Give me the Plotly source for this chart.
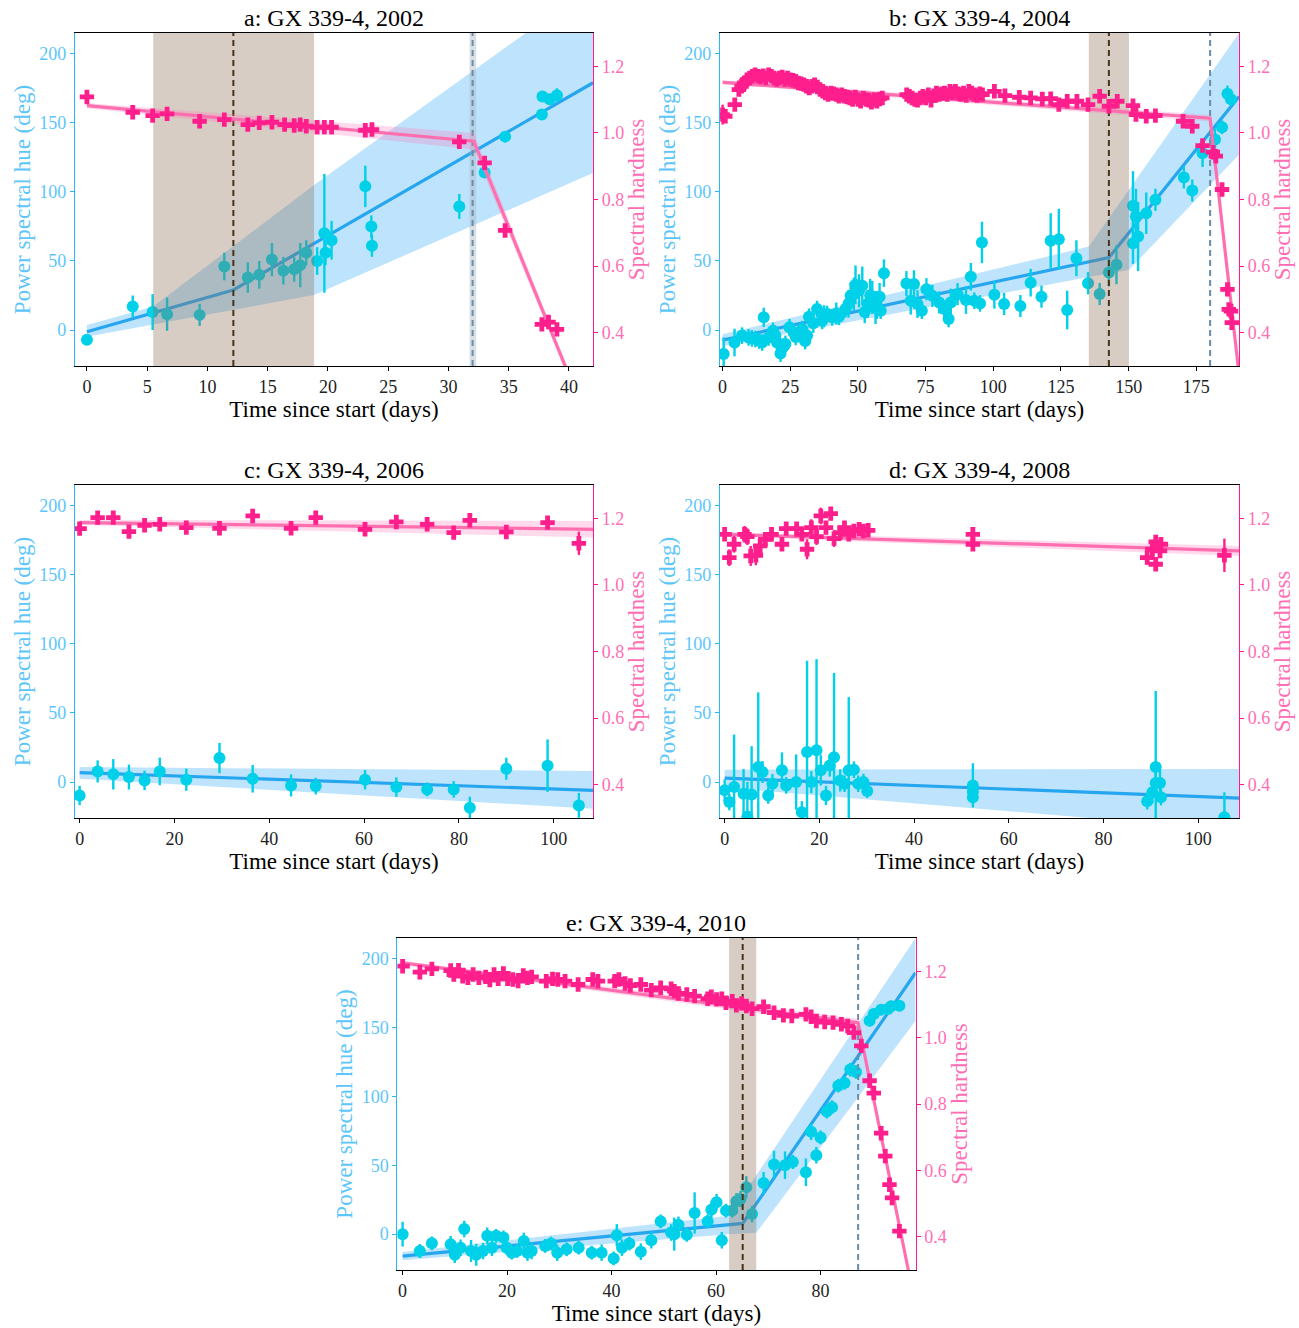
import plotly.graph_objects as go

# ---------------- Panel a: GX 339-4, 2002 ----------------
a_t_hue = [0, 3.8, 5.45, 6.65, 9.35, 11.4, 13.35, 14.3, 15.35, 16.3, 17.2, 17.7, 18.2, 19.1, 19.7, 19.8, 20.3,
           23.1, 23.6, 23.65, 30.9, 33.0, 34.7, 37.75, 37.8, 38.4, 39.0]
a_hue = [-7, 17, 13, 11.5, 11, 46, 38, 40, 51, 43, 44, 47, 56, 50, 70, 56, 65, 104, 75, 61, 89.5, 114, 140,
         156, 169, 167, 170]
a_hue_err = [3, 8, 13, 12, 8, 10, 11, 10, 12, 10, 9, 16, 9, 10, 43, 9, 14, 15, 8, 8, 9, 4, 4, 4, 4, 4, 5]
a_t_hard = [0, 3.8, 5.45, 6.65, 9.35, 11.4, 13.35, 14.3, 15.35, 16.4, 17.2, 17.7, 18.2, 19.1, 19.7, 20.3, 23.1,
            23.65, 30.9, 33.0, 34.7, 37.75, 38.3, 39.0]
a_hard = [1.108, 1.062, 1.052, 1.057, 1.035, 1.04, 1.025, 1.03, 1.032, 1.025, 1.022, 1.025, 1.02, 1.017, 1.017,
          1.017, 1.008, 1.01, 0.973, 0.91, 0.707, 0.425, 0.432, 0.41]
a_hard_err = [0.01] * len(a_hard)
a_fit_hue_t = [0, 12.15, 42]
a_fit_hue = [-1.2, 29, 179]
a_band_hue_t = [0, 5.5, 18.85, 42]
a_band_hue_hi = [3.6, 17, 105, 250]
a_band_hue_lo = [-4.8, 4, 25.4, 113.7]
a_fit_hard_t = [0, 32.1, 41]
a_fit_hard = [1.082, 0.975, 0.183]
a_band_hard_hi = [1.090, 1.0, 0.195]
a_band_hard_lo = [1.074, 0.95, 0.171]
a_break = [5.5, 12.15, 18.85]
a_trans = [31.75, 32.0, 32.3]

# ---------------- Panel b: GX 339-4, 2004 ----------------
b_t_hue = [0.4, 4.4, 7.2, 9.6, 12.1, 14.6, 15.2, 17, 18.6, 20.1, 21.4, 23.2, 24.7, 26.3, 28.1, 29.4, 31.2, 31.9,
           34.9, 36.8, 38.6, 40.5, 43, 45.4, 47.3, 49.1, 50.4, 51.6, 53.5, 55.3, 56.5, 58, 58.4, 59.6, 67.9, 69.5,
           70.7, 72, 73.6, 75.3, 77.5, 80, 81.9, 83.5, 84.3, 86.8, 89.9, 91.7, 93, 95.1, 95.8, 100.4, 104, 110,
           113.8, 117.8, 121.2, 124.2, 127.3, 130.7, 135, 139.3, 142.7, 145.5, 151.6, 151.6, 152.7, 153.5, 156.5,
           159.9, 170.4, 173.5, 177.3, 181.9, 184.5, 186.5, 187.8,
           10.8, 13.5, 19.5, 22.5, 27, 30.5, 33.5, 37.5, 42, 46.5, 48.5, 52.5, 54.5, 57]
b_hue = [-17.3, -9, -4, -5.3, -6.5, -9, 9.2, -5.3, -0.5, -9, -17, -10, 2, -1.7, -2.9, 0.7, -4, 9.6,
         15.2, 6.7, 11.6, 9.2, 9.6, 15.2, 24.8, 32.8, 28.4, 32, 18.8, 23.6, 16.4, 24.1, 14, 41.2, 33.7, 21.2,
         33.3, 18.8, 14, 29.6, 24.8, 20, 15.2, 8, 20, 26, 21.7, 38.6, 21.2, 19.3, 63.4, 25.5, 18.9, 17.4,
         34.3, 24.2, 64.6, 65.8, 14.5, 52, 33.9, 26.1, 41.6, 47.2, 90, 62.9, 82.2, 67.7, 84.6,
         94.3, 110.5, 101, 128, 138, 146.8, 171, 167,
         -6, -7.5, -4, -12, -5, -8, 5, 10, 12, 19, 26, 13, 25, 18]
b_hue_err = [12, 10, 6, 6, 6, 6, 7, 6, 6, 6, 6, 6, 6, 6, 6, 6, 6, 6,
             6, 6, 6, 6, 6, 6, 10, 14, 12, 14, 10, 12, 12, 10, 6, 10, 9, 10,
             10, 10, 6, 8, 8, 8, 6, 6, 10, 8, 10, 10, 6, 6, 15, 10, 8, 8,
             10, 8, 20, 22, 14, 13, 8, 8, 10, 14, 25, 15, 20, 25, 15,
             8, 8, 8, 10, 8, 5, 6, 5,
             6, 6, 6, 6, 6, 6, 7, 8, 8, 10, 12, 8, 12, 10]
b_t_hard = [0, 1, 4.5, 6, 7, 8, 9, 10, 11, 12, 13, 14, 15, 16, 17, 18, 19, 20, 21, 22, 23, 24, 25, 26, 27, 28,
            29, 30, 31, 32, 33, 34, 35, 36, 37, 38, 39, 40, 41, 42, 43, 44, 45, 46, 47, 48, 49, 50, 51, 52, 53,
            54, 55, 56, 57, 58, 59, 68, 69, 70, 71, 72, 73, 74, 75, 76, 77, 78, 79, 80, 81, 82, 83, 84, 85, 86,
            87, 88, 89, 90, 91, 92, 93, 94, 95, 96, 100.4, 104.3, 109.6, 113.8, 118.1, 121.2, 124.2, 127.3,
            130.9, 135.0, 139.3, 142.7, 145.8, 151.6, 152.7, 156.5, 159.9, 170.1, 173.5, 177.3, 181.1, 182.2,
            184.5, 186.5, 187, 187.8, 188.1]
b_hard = [1.055, 1.05, 1.085, 1.13, 1.14, 1.15, 1.16, 1.165, 1.17, 1.175, 1.17, 1.168, 1.172, 1.165, 1.175,
          1.17, 1.165, 1.16, 1.165, 1.168, 1.16, 1.165, 1.16, 1.158, 1.155, 1.15, 1.148, 1.145, 1.14, 1.135,
          1.14, 1.145, 1.138, 1.13, 1.125, 1.12, 1.115, 1.12, 1.118, 1.115, 1.11, 1.115, 1.11, 1.108, 1.105,
          1.1, 1.108, 1.1, 1.095, 1.105, 1.1, 1.098, 1.092, 1.1, 1.095, 1.102, 1.105, 1.115, 1.11, 1.105, 1.1,
          1.098, 1.105, 1.11, 1.105, 1.115, 1.098, 1.112, 1.12, 1.115, 1.118, 1.12, 1.115, 1.125, 1.12, 1.125,
          1.118, 1.115, 1.12, 1.112, 1.125, 1.12, 1.115, 1.112, 1.118, 1.115, 1.125, 1.112, 1.107, 1.105,
          1.102, 1.103, 1.085, 1.095, 1.095, 1.085, 1.11, 1.08, 1.095, 1.082, 1.055, 1.05, 1.052, 1.035, 1.02,
          0.962, 0.942, 0.93, 0.83, 0.53, 0.47, 0.465, 0.43]
b_hard_err = [0.03] + [0.01] * (len(b_hard) - 1)
b_fit_hue_t = [0, 142.7, 190.8]
b_fit_hue = [-7.3, 52.5, 169]
b_band_hue_t = [0, 135.3, 150.1, 190.8]
b_band_hue_hi = [-3, 60.4, 101.6, 215]
b_band_hue_lo = [-11.5, 38.4, 43.5, 127]
b_fit_hard_t = [0, 180.1, 192]
b_fit_hard = [1.152, 1.044, 0.187]
b_band_hard_hi = [1.158, 1.054, 0.199]
b_band_hard_lo = [1.146, 1.034, 0.175]
b_break = [135.3, 142.7, 150.1]
b_trans = [180.0, 180.1, 180.2]

# ---------------- Panel c: GX 339-4, 2006 ----------------
c_t = [0, 3.8, 7.1, 10.4, 13.7, 16.9, 22.5, 29.5, 36.5, 44.6, 49.8, 60.2, 66.8, 73.3, 78.9, 82.3, 90, 98.7, 105.3]
c_hue = [-9.7, 7.7, 5.6, 3.6, 1.2, 7.7, 1.7, 17.4, 2.4, -2.4, -2.9, 1.7, -3.6, -5.3, -5.3, -18.6, 9.7, 11.9, -16.9]
c_hue_err = [7, 8, 11, 9, 7, 10, 8, 11, 10, 8, 6, 7, 7, 5, 6, 8, 8, 19, 9]
c_hard = [1.169, 1.202, 1.202, 1.16, 1.179, 1.182, 1.172, 1.17, 1.207, 1.17, 1.202, 1.167, 1.189, 1.182, 1.157,
          1.194, 1.159, 1.187, 1.125]
c_hard_err = [0.012] * 18 + [0.035]
c_fit_hue_t = [0, 108.3]
c_fit_hue = [6.8, -6]
c_band_hue_t = [0, 108.3]
c_band_hue_hi = [10.9, 8]
c_band_hue_lo = [2.4, -19.3]
c_fit_hard_t = [0, 108.3]
c_fit_hard = [1.187, 1.167]
c_band_hard_hi = [1.195, 1.192]
c_band_hard_lo = [1.180, 1.142]

# ---------------- Panel d: GX 339-4, 2008 ----------------
d_t_hue = [0, 1, 2, 4, 4.8, 5.7, 7.1, 8, 9.2, 10.1, 12.1, 13, 15.1, 16.3, 17.4, 18.3, 19.4, 20.3, 21.4, 22.2,
           23.1, 24.4, 25.3, 26.2, 27.3, 28.2, 29.3, 30.1, 52.4, 52.4, 52.4, 89.2, 90.3, 91, 91, 91.9, 92.1, 105.5]
d_hue = [-6, -14.5, -3.6, -8.5, -25, -9, 10.9, 7.3, -9.7, -1.2, 8.5, -2.4, 0, -21.8, 21.8, 0, 23, 8.5, -9.7, 12,
         18, 1.2, -1.2, 8.5, 9, -1.2, 0, -6.5, -2.4, -10.9, -7, -13.8, -7.3, 10.9, -0.7, -0.7, -10.9, -25.4]
d_hue_err = [8, 6, 38, 18, 25, 35, 54, 8, 6, 7, 13, 6, 20, 8, 66, 8, 66, 11, 7, 8, 61, 8, 6, 53, 6, 6, 6, 5,
             16, 5, 6, 6, 8, 55, 10, 10, 6, 18]
d_t_hard = [0, 1, 2, 4.2, 4.8, 5.5, 6.6, 7.5, 8.6, 9.9, 12.1, 13, 15.2, 16.3, 17.4, 18.3, 19.4, 20.3, 21.4, 22.4,
            23.1, 24.4, 25.3, 26.2, 27.3, 28.4, 29.3, 30.3, 52.4, 52.4, 89.2, 90.3, 91, 91, 91.9, 92.1, 105.5]
d_hard = [1.152, 1.082, 1.122, 1.152, 1.145, 1.087, 1.089, 1.117, 1.137, 1.152, 1.122, 1.169, 1.169, 1.152,
          1.107, 1.172, 1.145, 1.207, 1.172, 1.214, 1.139, 1.157, 1.172, 1.152, 1.162, 1.167, 1.162, 1.164,
          1.152, 1.122, 1.082, 1.107, 1.129, 1.062, 1.102, 1.122, 1.089]
d_hard_err = [0.015, 0.025, 0.025, 0.025, 0.025, 0.03, 0.03, 0.025, 0.02, 0.02, 0.015, 0.015, 0.015, 0.02,
              0.03, 0.025, 0.025, 0.025, 0.02, 0.02, 0.025, 0.02, 0.02, 0.02, 0.015, 0.015, 0.015, 0.012,
              0.02, 0.02, 0.02, 0.02, 0.02, 0.02, 0.02, 0.02, 0.05]
d_fit_hue_t = [0, 108.6]
d_fit_hue = [2.9, -11.6]
d_band_hue_t = [0, 108.6]
d_band_hue_hi = [9, 9.5]
d_band_hue_lo = [-4, -35]
d_fit_hard_t = [0, 108.6]
d_fit_hard = [1.152, 1.102]
d_band_hard_hi = [1.158, 1.117]
d_band_hard_lo = [1.146, 1.087]

# ---------------- Panel e: GX 339-4, 2010 ----------------
e_t_hue = [0, 3.3, 5.6, 9.2, 10, 11.1, 11.8, 13.1, 14.1, 15.4, 16.2, 17.1, 17.9, 19.3, 19.9, 20.9, 21.9, 23.2,
           23.9, 24.7, 27.3, 28.4, 29.6, 31.4, 33.7, 36.2, 38.1, 40.4, 41, 42, 43.4, 45.6, 47.6, 49.4, 51.4, 52,
           52.8, 54.4, 55.9, 58.4, 59.1, 60.1, 61.1, 61.9, 63.1, 63.9, 64.7, 65.8, 66.9, 69.1, 71.1, 73.2, 74.7,
           77.2, 78.2, 79.2, 80, 81.2, 82.2, 83.4, 84.6, 85.7, 86.8, 89.4, 90.2, 91.6, 92.9, 93.5, 95.1]
e_hue = [0, -12.2, -6.6, -7.3, -15, -9.8, 3.7, -12.2, -15, -12.2, -1.2, -9.8, -1.2, -2.4, -9.8, -13.4, -12.2,
         -4.9, -13.4, -12.2, -8.5, -6.8, -13.4, -11, -9.8, -13.4, -13.4, -17.6, -0.7, -9.8, -6.8, -12.7, -4.4,
         9.3, 1.2, 0, 6.8, -0.5, 15.4, 9.3, 17.8, 23.2, -4.4, 17.1, 17.1, 23.9, 25.6, 34.1, 14.6, 37.1, 50.5,
         50, 52.4, 45, 74.4, 57.3, 70.2, 89, 92.2, 107.8, 109.8, 119.5, 117.8, 154.9, 159.8, 163, 163.4, 165.4,
         165.9]
e_hue_err = [9, 5, 5, 6, 6, 6, 6, 8, 8, 6, 6, 6, 5, 5, 5, 5, 5, 6, 6, 6, 5, 5, 6, 5, 5, 5, 6, 5, 8, 6, 5, 6, 6,
             5, 6, 12, 6, 5, 15, 5, 6, 6, 6, 5, 5, 6, 6, 8, 6, 8, 10, 10, 5, 10, 6, 6, 5, 5, 5, 5, 5, 5, 5, 4,
             4, 4, 4, 4, 4]
e_t_hard = [0, 3.3, 5.6, 9.2, 9.8, 10.7, 11.5, 12.5, 13.5, 14.6, 15.9, 16.7, 17.5, 18.3, 19.3, 20.1, 21.1, 22.1,
            23.1, 23.9, 24.7, 27.5, 28.7, 29.7, 31.1, 33.6, 36.4, 37.4, 40.6, 41.4, 42.6, 43.6, 45.6, 47.6, 49.4,
            51.4, 52, 52.8, 54.4, 55.9, 58.4, 59.1, 60.1, 61.1, 61.9, 63.1, 63.9, 64.9, 65.8, 66.9, 69.1, 71.1,
            72.9, 74.5, 77.2, 78.2, 79.2, 80.8, 82.4, 84, 85.2, 86.4, 87.8, 89.4, 90.2, 91.6, 92.4, 93.2, 93.7,
            95.1]
e_hard = [1.215, 1.197, 1.207, 1.202, 1.19, 1.203, 1.185, 1.18, 1.19, 1.18, 1.183, 1.173, 1.19, 1.177, 1.193,
          1.177, 1.175, 1.17, 1.187, 1.18, 1.183, 1.17, 1.177, 1.175, 1.17, 1.16, 1.175, 1.17, 1.17, 1.175, 1.163,
          1.157, 1.16, 1.143, 1.15, 1.147, 1.14, 1.133, 1.13, 1.125, 1.117, 1.123, 1.115, 1.117, 1.105, 1.11,
          1.097, 1.103, 1.095, 1.087, 1.093, 1.075, 1.067, 1.065, 1.07, 1.063, 1.05, 1.047, 1.045, 1.04, 1.035,
          1.015, 0.975, 0.87, 0.833, 0.712, 0.643, 0.557, 0.517, 0.417]
e_hard_err = [0.01] * len(e_hard)
e_fit_hue_t = [0, 65.1, 98.2]
e_fit_hue = [-15.9, 7.8, 189.8]
e_band_hue_t = [0, 62.5, 67.7, 98.2]
e_band_hue_hi = [-12.9, 13.4, 42.8, 215]
e_band_hue_lo = [-18.9, 0, 1, 155]
e_fit_hard_t = [0, 87.2, 99]
e_fit_hard = [1.225, 1.045, 0.13]
e_band_hard_hi = [1.231, 1.057, 0.142]
e_band_hard_lo = [1.219, 1.033, 0.118]
e_break = [62.5, 65.1, 67.7]
e_trans = [87.1, 87.2, 87.3]

titles = ["a: GX 339-4, 2002", "b: GX 339-4, 2004", "c: GX 339-4, 2006", "d: GX 339-4, 2008", "e: GX 339-4, 2010"]

# ---------------- styling ----------------
W, H = 1299, 1328
FONT = "Liberation Serif"
HUE_RANGE = [-26, 215]
HARD_RANGE = [0.3, 1.3]
C_PT = "#00d0e8"
C_HUE_LINE = "#27a6f0"
C_HUE_BAND = "rgba(135,206,250,0.55)"
C_PINK_PT = "#ff1f8c"
C_PINK_LINE = "#ff6fb0"
C_PINK_BAND = "rgba(255,120,185,0.28)"
C_BROWN_FILL = "rgba(139,111,85,0.35)"
C_BROWN_LINE = "#4a3219"
C_GREY_LINE = "#6d8aa6"
C_GREY_FILL = "rgba(170,185,200,0.45)"
C_AX_BLUE = "#29b6f6"
C_TXT_BLUE = "#5cc6fa"
C_AX_PINK = "#ff1a8c"
C_TXT_PINK = "#ff6eb4"

# panel boxes in pixels (left, right, top, bottom)
boxes = [(73, 592, 33, 366), (719, 1239, 33, 366), (73, 592, 485, 818), (719, 1239, 485, 818),
         (396, 915, 938, 1270)]
xranges = [[-1, 42], [-1, 190.8], [-1, 108.3], [-1, 108.6], [-1, 98.2]]
xdticks = [5, 25, 20, 20, 20]

fig = go.Figure()


def poly(t, hi, lo):
    return list(t) + list(t)[::-1], list(hi) + list(lo)[::-1]


def add_panel(i, t_hue, hue, hue_err, t_hard, hard, hard_err, fht, fh, bht, bhh, bhl,
              fst, fs, bsh, bsl, brk=None, trans=None, trans_band=False):
    xa = "x" if i == 1 else f"x{i}"
    yl = "y" if i == 1 else f"y{2 * i - 1}"
    yr = f"y{2 * i}"
    px, py = poly(bht, bhh, bhl)
    fig.add_trace(go.Scatter(x=px, y=py, xaxis=xa, yaxis=yl, fill="toself", fillcolor=C_HUE_BAND,
                             line=dict(width=0), mode="lines", hoverinfo="skip", showlegend=False))
    fig.add_trace(go.Scatter(x=fht, y=fh, xaxis=xa, yaxis=yl, mode="lines",
                             line=dict(color=C_HUE_LINE, width=3.2), showlegend=False))
    fig.add_trace(go.Scatter(x=t_hue, y=hue, xaxis=xa, yaxis=yl, mode="markers",
                             marker=dict(color=C_PT, size=12, symbol="circle"),
                             error_y=dict(type="data", array=hue_err, color=C_PT, thickness=2.4, width=0),
                             showlegend=False))
    y0, y1 = HUE_RANGE
    if brk is not None:
        fig.add_trace(go.Scatter(x=[brk[0], brk[2], brk[2], brk[0]], y=[y0, y0, y1, y1], xaxis=xa, yaxis=yl,
                                 fill="toself", fillcolor=C_BROWN_FILL, line=dict(width=0), mode="lines",
                                 hoverinfo="skip", showlegend=False))
        fig.add_trace(go.Scatter(x=[brk[1], brk[1]], y=[y0, y1], xaxis=xa, yaxis=yl, mode="lines",
                                 line=dict(color=C_BROWN_LINE, width=2, dash="6px,4px"), showlegend=False))
    if trans is not None:
        if trans_band:
            fig.add_trace(go.Scatter(x=[trans[0], trans[2], trans[2], trans[0]], y=[y0, y0, y1, y1],
                                     xaxis=xa, yaxis=yl, fill="toself", fillcolor=C_GREY_FILL,
                                     line=dict(width=0), mode="lines", hoverinfo="skip", showlegend=False))
        fig.add_trace(go.Scatter(x=[trans[1], trans[1]], y=[y0, y1], xaxis=xa, yaxis=yl, mode="lines",
                                 line=dict(color=C_GREY_LINE, width=2, dash="6px,4px"), showlegend=False))
    px, py = poly(fst, bsh, bsl)
    fig.add_trace(go.Scatter(x=px, y=py, xaxis=xa, yaxis=yr, fill="toself", fillcolor=C_PINK_BAND,
                             line=dict(width=0), mode="lines", hoverinfo="skip", showlegend=False))
    fig.add_trace(go.Scatter(x=fst, y=fs, xaxis=xa, yaxis=yr, mode="lines",
                             line=dict(color=C_PINK_LINE, width=3.2), showlegend=False))
    fig.add_trace(go.Scatter(x=t_hard, y=hard, xaxis=xa, yaxis=yr, mode="markers",
                             marker=dict(color=C_PINK_PT, size=12, symbol="cross"),
                             error_y=dict(type="data", array=hard_err, color=C_PINK_PT, thickness=2.4, width=0),
                             showlegend=False))


add_panel(1, a_t_hue, a_hue, a_hue_err, a_t_hard, a_hard, a_hard_err, a_fit_hue_t, a_fit_hue, a_band_hue_t,
          a_band_hue_hi, a_band_hue_lo, a_fit_hard_t, a_fit_hard, a_band_hard_hi, a_band_hard_lo,
          brk=a_break, trans=a_trans, trans_band=True)
add_panel(2, b_t_hue, b_hue, b_hue_err, b_t_hard, b_hard, b_hard_err, b_fit_hue_t, b_fit_hue, b_band_hue_t,
          b_band_hue_hi, b_band_hue_lo, b_fit_hard_t, b_fit_hard, b_band_hard_hi, b_band_hard_lo,
          brk=b_break, trans=b_trans)
add_panel(3, c_t, c_hue, c_hue_err, c_t, c_hard, c_hard_err, c_fit_hue_t, c_fit_hue, c_band_hue_t,
          c_band_hue_hi, c_band_hue_lo, c_fit_hard_t, c_fit_hard, c_band_hard_hi, c_band_hard_lo)
add_panel(4, d_t_hue, d_hue, d_hue_err, d_t_hard, d_hard, d_hard_err, d_fit_hue_t, d_fit_hue, d_band_hue_t,
          d_band_hue_hi, d_band_hue_lo, d_fit_hard_t, d_fit_hard, d_band_hard_hi, d_band_hard_lo)
add_panel(5, e_t_hue, e_hue, e_hue_err, e_t_hard, e_hard, e_hard_err, e_fit_hue_t, e_fit_hue, e_band_hue_t,
          e_band_hue_hi, e_band_hue_lo, e_fit_hard_t, e_fit_hard, e_band_hard_hi, e_band_hard_lo,
          brk=e_break, trans=e_trans)

layout = dict(width=W, height=H, margin=dict(l=0, r=0, t=0, b=0), paper_bgcolor="white", plot_bgcolor="white",
              font=dict(family=FONT, size=18, color="black"), showlegend=False)
annotations = []
for i, (l, r, t, b) in enumerate(boxes, start=1):
    xd = [l / W, r / W]
    yd = [1 - b / H, 1 - t / H]
    xkey = "xaxis" if i == 1 else f"xaxis{i}"
    ylkey = "yaxis" if i == 1 else f"yaxis{2 * i - 1}"
    yrkey = f"yaxis{2 * i}"
    ylname = "y" if i == 1 else f"y{2 * i - 1}"
    xname = "x" if i == 1 else f"x{i}"
    layout[xkey] = dict(domain=xd, range=xranges[i - 1], anchor=ylname, dtick=xdticks[i - 1], tick0=0,
                        showgrid=False, zeroline=False, showline=True, linecolor="black", linewidth=1.3,
                        mirror=True, ticks="outside", ticklen=4, tickcolor="black",
                        tickfont=dict(family=FONT, size=18, color="#222"),
                        title=dict(text="Time since start (days)", font=dict(family=FONT, size=23, color="black"),
                                   standoff=0))
    layout[ylkey] = dict(domain=yd, range=HUE_RANGE, anchor=xname, dtick=50, tick0=0, showgrid=False,
                         zeroline=False, showline=True, linecolor=C_AX_BLUE, linewidth=1.3, ticks="outside",
                         ticklen=4, tickcolor=C_AX_BLUE, tickfont=dict(family=FONT, size=18, color=C_TXT_BLUE),
                         title=dict(text="Power spectral hue (deg)",
                                    font=dict(family=FONT, size=23, color=C_TXT_BLUE), standoff=2))
    layout[yrkey] = dict(range=HARD_RANGE, overlaying=ylname, anchor=xname, side="right", dtick=0.2, tick0=0,
                         tickformat=".1f", showgrid=False, zeroline=False, showline=True, linecolor=C_AX_PINK,
                         linewidth=1.3, ticks="outside", ticklen=4, tickcolor=C_AX_PINK,
                         tickfont=dict(family=FONT, size=18, color=C_TXT_PINK),
                         title=dict(text="Spectral hardness", font=dict(family=FONT, size=23, color=C_TXT_PINK),
                                    standoff=2))
    annotations.append(dict(text=titles[i - 1], x=(xd[0] + xd[1]) / 2, y=yd[1], xref="paper", yref="paper",
                            xanchor="center", yanchor="bottom", yshift=0, showarrow=False,
                            font=dict(family=FONT, size=24, color="black")))
layout["annotations"] = annotations
fig.update_layout(**layout)
fig.write_html("out.html")
